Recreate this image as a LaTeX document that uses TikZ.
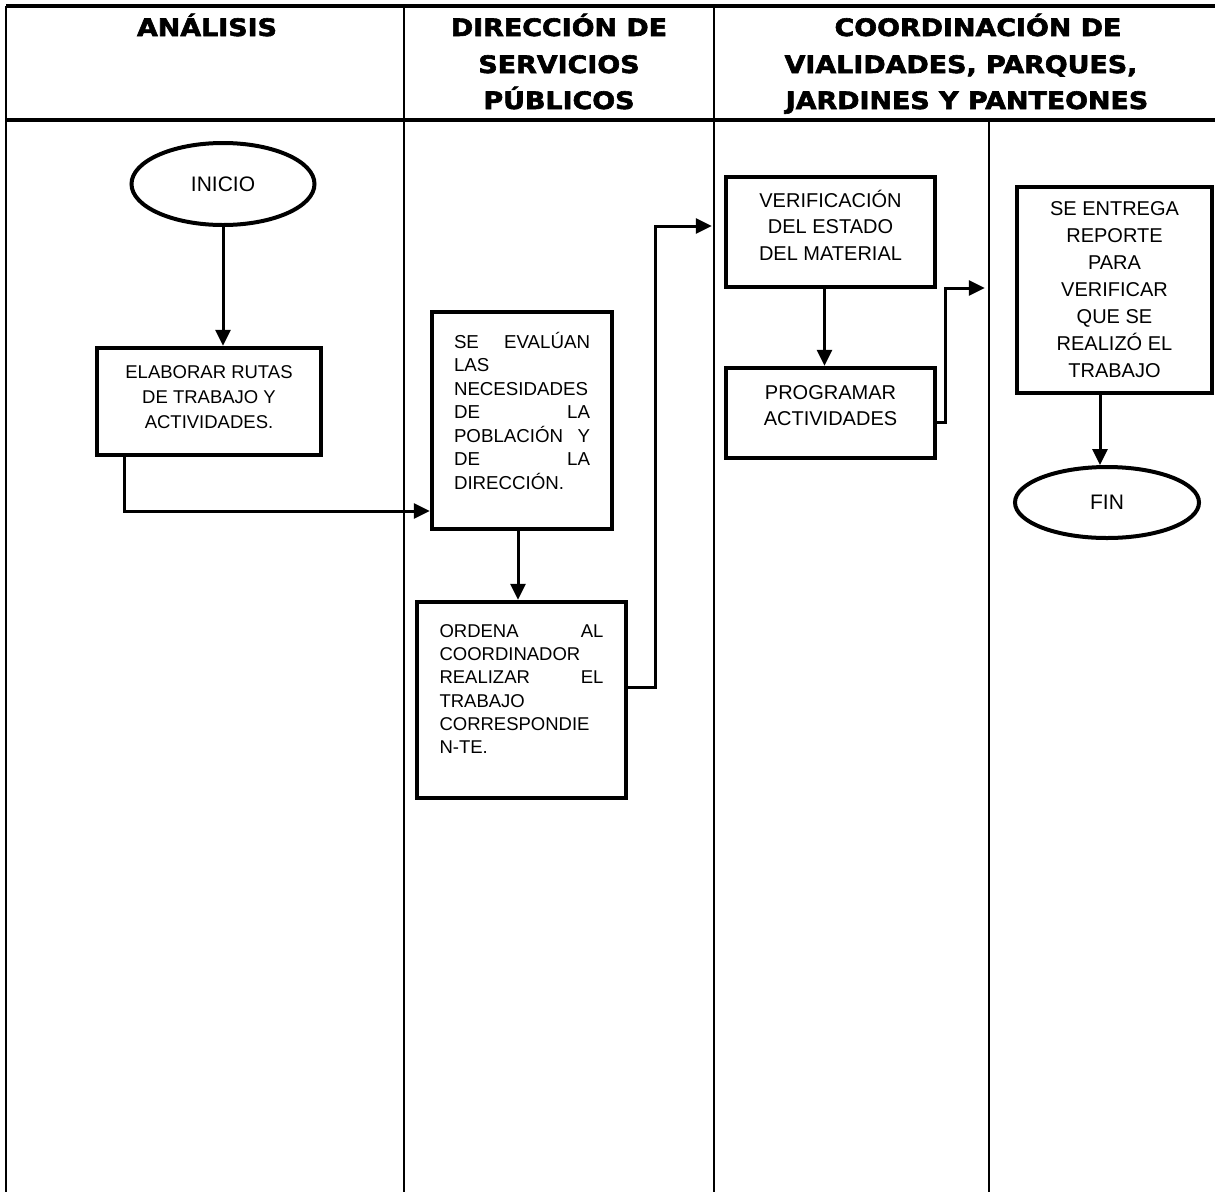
\documentclass[tikz,border=0pt]{standalone}
\usepackage{fontspec}
\setmainfont{Liberation Sans}
\newfontfamily\hdrfont{DejaVu Sans}[UprightFont={* Bold}, FakeStretch=1.12, FakeBold=2.5]
\usetikzlibrary{shapes.geometric,arrows.meta}
\begin{document}
\begin{tikzpicture}[x=1pt,y=-1pt,
  lane/.style={line width=2.2pt},
  border/.style={line width=2.4pt},
  rule/.style={line width=3.5pt},
  hdr/.style={anchor=base,inner sep=0pt,font=\hdrfont\fontsize{24}{24}\selectfont},
  box/.style={draw,line width=4.5pt,rectangle,inner sep=0pt},
  term/.style={draw,ellipse,line width=4pt,inner sep=0pt,font=\fontsize{21}{24}\selectfont},
  conn/.style={line width=3pt,-{Triangle[length=16pt,width=15pt]}},
]
\useasboundingbox (0,0) rectangle (1215,1192);

% swimlane frame
\draw[rule] (6,6) -- (1215,6);
\draw[rule] (6,120) -- (1215,120);
\draw[border] (6,6) -- (6,1192);
\draw[lane] (404,6) -- (404,1192);
\draw[lane] (714,6) -- (714,1192);
\draw[lane] (989,120) -- (989,1192);

% headers
\node[hdr] (h1) at (207,36) {ANÁLISIS};
\node[hdr] (h2a) at (559,36) {DIRECCIÓN DE};
\node[hdr] (h2b) at (559,73) {SERVICIOS};
\node[hdr] (h2c) at (559,109) {PÚBLICOS};
\node[hdr] (h3a) at (978,36) {COORDINACIÓN DE};
\node[hdr] (h3b) at (961,73) {VIALIDADES, PARQUES,};
\node[hdr] (h3c) at (967,109) {JARDINES Y PANTEONES};

% nodes
\node[term,minimum width=183pt,minimum height=82pt] (inicio) at (223,184) {INICIO};
\node[box,minimum width=224pt,minimum height=107pt,align=center,font=\fontsize{18.5}{25}\selectfont] (elab) at (209,401.5) {ELABORAR RUTAS\\DE TRABAJO Y\\ACTIVIDADES.\\[-17pt]\mbox{}};
\node[box,minimum width=180pt,minimum height=217pt,text width=136pt,align=left,font=\fontsize{18.7}{23.5}\selectfont] (evalua) at (522,420.5) {SE\hfill EVALÚAN\\LAS\\NECESIDADES\\DE\hfill LA\\POBLACIÓN\hfill Y\\DE\hfill LA\\DIRECCIÓN.\\[-3.5pt]\mbox{}};
\node[box,minimum width=209pt,minimum height=196pt,text width=164pt,align=left,font=\fontsize{18.5}{23.3}\selectfont] (ordena) at (521.5,700) {ORDENA\hfill AL\\COORDINADOR\\REALIZAR\hfill EL\\TRABAJO\\CORRESPONDIE\\N-TE.\\[-1.3pt]\mbox{}};
\node[box,minimum width=209pt,minimum height=110pt,align=center,font=\fontsize{20}{26.5}\selectfont] (verif) at (830.5,232) {VERIFICACIÓN\\DEL ESTADO\\DEL MATERIAL\\[-12.5pt]\mbox{}};
\node[box,minimum width=209pt,minimum height=90pt,align=center,font=\fontsize{20}{26}\selectfont] (prog) at (830.5,413) {PROGRAMAR\\ACTIVIDADES\\[-12pt]\mbox{}};
\node[box,minimum width=195pt,minimum height=206pt,align=center,font=\fontsize{20}{27}\selectfont] (entrega) at (1114.5,290) {SE ENTREGA\\REPORTE\\PARA\\VERIFICAR\\QUE SE\\REALIZÓ EL\\TRABAJO};
\node[term,minimum width=184pt,minimum height=71pt] (fin) at (1107,502.5) {FIN};

% connectors
\draw[conn] (inicio.south) -- (inicio.south |- elab.north);
\draw[conn] ([xshift=30pt]elab.south west) |- ([yshift=-90.5pt]evalua.west);
\draw[conn] ([xshift=-4pt]evalua.south) -- ([xshift=-4pt]evalua.south |- ordena.north);
\coordinate (c1) at (655,226);
\draw[conn,shorten >=12pt] ([yshift=13pt]ordena.east) -| (c1) -- ([yshift=6pt]verif.west);
\draw[conn] ([xshift=-6pt]verif.south) -- ([xshift=-6pt]verif.south |- prog.north);
\coordinate (c2) at (945,288);
\draw[conn,shorten >=30pt] ([yshift=-9pt]prog.east) -| (c2) -- ([yshift=2pt]entrega.west);
\draw[conn] ([xshift=-14.5pt]entrega.south) -- ([xshift=-14.5pt]entrega.south |- fin.north);
\end{tikzpicture}
\end{document}
